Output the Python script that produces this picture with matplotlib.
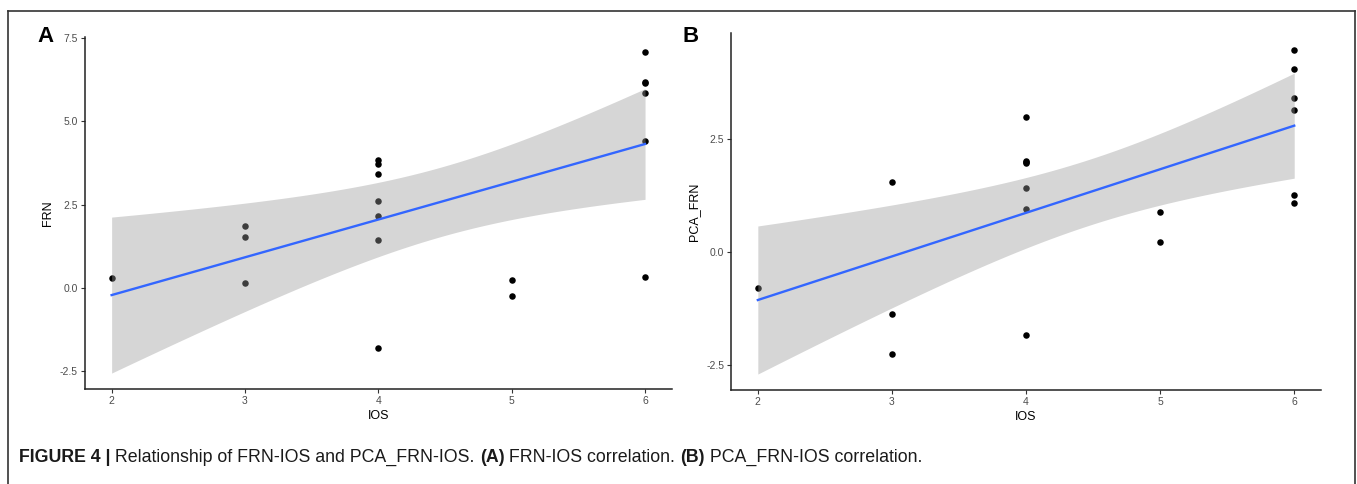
import numpy as np
import matplotlib
matplotlib.use("Agg")
import matplotlib.pyplot as plt
from matplotlib.lines import Line2D

plt.rcParams['font.family'] = ['Liberation Sans', 'DejaVu Sans']

# Panel A: FRN vs IOS
ios_a = [2, 3, 3, 3, 4, 4, 4, 4, 4, 4, 4, 5, 5, 6, 6, 6, 6, 6, 6]
frn = [0.29, 1.85, 1.53, 0.16, 3.84, 3.72, 3.41, 2.61, 2.16, 1.45, -1.80,
       0.24, -0.25, 7.06, 6.18, 6.15, 5.85, 4.42, 0.32]

# Panel B: PCA_FRN vs IOS
ios_b = [2, 3, 3, 3, 4, 4, 4, 4, 4, 4, 4, 5, 5, 6, 6, 6, 6, 6, 6]
pca_frn = [-0.80, 1.54, -1.37, -2.26, 2.99, 2.02, 1.97, 2.00, 1.41, 0.94, -1.83,
           0.89, 0.21, 4.48, 4.06, 3.40, 3.14, 1.27, 1.08]

ticks_a = [-2.5, 0.0, 2.5, 5.0, 7.5]
ticks_b = [-2.5, 0.0, 2.5]
x_ticks = [2, 3, 4, 5, 6]

T_CRIT = 2.1098  # t(0.975, df=17)


def lm_band(x, y, grid):
    # ordinary least squares with 95% confidence band, like geom_smooth(method="lm")
    x = np.asarray(x, float)
    y = np.asarray(y, float)
    n = len(x)
    slope, icpt = np.polyfit(x, y, 1)
    resid = y - (slope * x + icpt)
    sigma = np.sqrt(np.sum(resid ** 2) / (n - 2))
    sxx = np.sum((x - x.mean()) ** 2)
    fit = slope * grid + icpt
    se = sigma * np.sqrt(1 / n + (grid - x.mean()) ** 2 / sxx)
    return fit, fit - T_CRIT * se, fit + T_CRIT * se


def draw_panel(ax, x, y, yticks, ylabel, ylim):
    grid = np.linspace(min(x), max(x), 80)
    fit, lo, hi = lm_band(x, y, grid)
    ax.scatter(x, y, s=22, color='black', zorder=2, linewidths=0)
    ax.fill_between(grid, lo, hi, color='#999999', alpha=0.4, linewidth=0, zorder=3)
    ax.plot(grid, fit, color='#3366FF', lw=1.7, zorder=4)

    ax.set_xlim(1.8, 6.2)
    ax.set_ylim(*ylim)
    ax.set_xticks(x_ticks)
    ax.set_yticks(yticks)
    ax.set_xticklabels([str(t) for t in x_ticks])
    ax.set_yticklabels([f"{t:.1f}" for t in yticks])
    ax.tick_params(colors='#333333', labelcolor='#4D4D4D', labelsize=7.5,
                   length=3, width=0.8, pad=2)
    for side in ['top', 'right']:
        ax.spines[side].set_visible(False)
    for side in ['left', 'bottom']:
        ax.spines[side].set_linewidth(1.1)
        ax.spines[side].set_color('#222222')
    ax.set_xlabel("IOS", fontsize=9, labelpad=3)
    ax.set_ylabel(ylabel, fontsize=9, labelpad=4)


fig = plt.figure(figsize=(13.57, 4.84), dpi=100)

ax_a = fig.add_axes([0.0626, 0.196, 0.4324, 0.728])
draw_panel(ax_a, ios_a, frn, ticks_a, "FRN", (-3.03, 7.53))

ax_b = fig.add_axes([0.5387, 0.194, 0.4348, 0.737])
draw_panel(ax_b, ios_b, pca_frn, ticks_b, "PCA_FRN", (-3.06, 4.84))

fig.text(37 / 1357, 1 - 37 / 484, "A", fontsize=16, fontweight='bold', va='center', ha='left')
fig.text(683 / 1357, 1 - 37 / 484, "B", fontsize=16, fontweight='bold', va='center', ha='left')

# border round the figure
W, H = 1357, 484
border = dict(color='#333333', lw=1.2, transform=fig.transFigure)
fig.add_artist(Line2D([8 / W, 8 / W], [0, 1 - 11 / H], **border))
fig.add_artist(Line2D([8 / W, 1355 / W], [1 - 11 / H, 1 - 11 / H], **border))
fig.add_artist(Line2D([1355 / W, 1355 / W], [0, 1 - 11 / H], **border))

# caption, mixing bold and regular pieces
caption = [
    ("FIGURE 4 |", 'bold'),
    (" Relationship of FRN-IOS and PCA_FRN-IOS. ", 'normal'),
    ("(A)", 'bold'),
    (" FRN-IOS correlation. ", 'normal'),
    ("(B)", 'bold'),
    (" PCA_FRN-IOS correlation.", 'normal'),
]
renderer = fig.canvas.get_renderer()
x_px = 19
for text, weight in caption:
    t = fig.text(x_px / W, 1 - 457 / H, text, fontsize=12.8, fontweight=weight,
                 va='center', ha='left', color='#1a1a1a')
    x_px += t.get_window_extent(renderer).width

fig.savefig("out.png", dpi=100)
